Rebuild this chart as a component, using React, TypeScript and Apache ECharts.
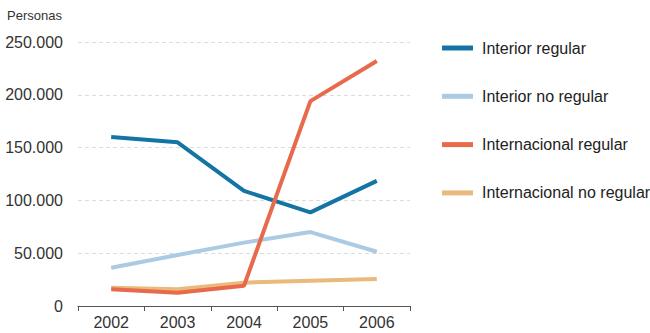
import React, { useEffect, useRef } from "react";
import * as echarts from "echarts";

const years = ["2002", "2003", "2004", "2005", "2006"];
const seriesNames = ["Interior regular", "Interior no regular", "Internacional regular", "Internacional no regular"];
const interiorRegular = [160000, 155000, 109000, 88700, 118500];
const interiorNoRegular = [36300, 48300, 60000, 70000, 51400];
const internacionalRegular = [15800, 12600, 19200, 194000, 232000];
const internacionalNoRegular = [17300, 15800, 22100, 24000, 25600];
const colors = ["#1474a4", "#aacbe3", "#e86a4c", "#eab97c"];

export default function App() {
  const ref = useRef<HTMLDivElement>(null);
  useEffect(() => {
    const chart = echarts.init(ref.current!, null, { renderer: "svg" });
    const data = [interiorRegular, interiorNoRegular, internacionalRegular, internacionalNoRegular];
    const font = "Liberation Sans, Arial, sans-serif";
    chart.setOption({
      animation: false,
      color: colors,
      textStyle: { fontFamily: font },
      grid: { left: 78, right: 240, top: 42, bottom: 27 },
      graphic: [
        {
          type: "text",
          left: 7,
          top: 9,
          style: { text: "Personas", fontSize: 13, fill: "#333", fontFamily: font },
        },
      ],
      legend: {
        orient: "vertical",
        left: 437,
        top: 35,
        padding: 5,
        itemWidth: 31,
        itemHeight: 5,
        itemGap: 32.3,
        icon: "rect",
        textStyle: { fontSize: 16, color: "#222", fontFamily: font, padding: [0, 0, 0, 4] },
        data: seriesNames,
      },
      xAxis: {
        type: "category",
        data: years,
        boundaryGap: true,
        axisLine: { lineStyle: { color: "#555", width: 1 } },
        axisTick: { show: true, length: 5, lineStyle: { color: "#555" } },
        axisLabel: { fontSize: 16, color: "#333", margin: 8, fontFamily: font },
      },
      yAxis: {
        type: "value",
        min: 0,
        max: 250000,
        interval: 50000,
        axisLine: { show: false },
        axisTick: { show: false },
        axisLabel: {
          fontSize: 16,
          color: "#333",
          margin: 15,
          fontFamily: font,
          formatter: (v: number) => (v === 0 ? "0" : v.toLocaleString("de-DE")),
        },
        splitLine: { lineStyle: { color: "#dcdcdc", type: [4, 3] } },
      },
      series: seriesNames.map((name, i) => ({
        name,
        type: "line",
        data: data[i],
        showSymbol: false,
        symbol: "none",
        lineStyle: { width: 4, color: colors[i] },
        itemStyle: { color: colors[i] },
        z: i === 2 ? 5 : 4 - i,
      })),
    });
    return () => chart.dispose();
  }, []);
  return <div ref={ref} style={{ width: 650, height: 333, position: "absolute", left: 0, top: 0 }} />;
}
